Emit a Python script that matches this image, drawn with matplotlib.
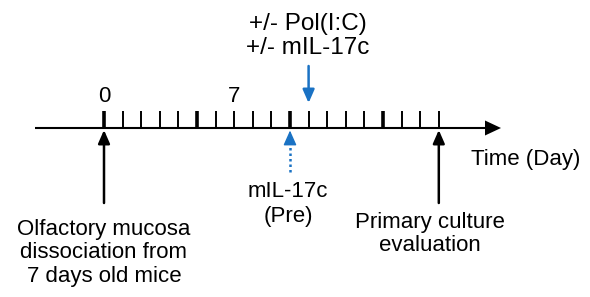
import matplotlib.pyplot as plt

plt.rcParams["font.family"] = ["Liberation Sans", "DejaVu Sans"]

# timeline content
TICK_DAYS = list(range(0, 19))
BOLD_DAYS = [0, 5, 10, 15]
LABEL_DAYS = [0, 7]
TREAT_DAY = 11
TREAT_TEXT = "+/- Pol(I:C)\n+/- mIL-17c"
PRE_DAY = 10
PRE_TEXT = "mIL-17c\n(Pre)"
START_DAY = 0
START_TEXT = "Olfactory mucosa\ndissociation from\n7 days old mice"
END_DAY = 18
END_TEXT = "Primary culture\nevaluation"
AXIS_TEXT = "Time (Day)"

BLUE = "#1a72c4"
FS = 16

# layout: x in days (day 0 at 104 px, 18.6 px per day), y in pixels from top
PX0, PXD = 104.0, 18.6


def d(px):
    return (px - PX0) / PXD


fig = plt.figure(figsize=(5.9, 2.97), dpi=100)
ax = fig.add_axes([0, 0, 1, 1])
ax.set_xlim(d(0), d(590))
ax.set_ylim(297, 0)
ax.axis("off")

axis_y = 128
# main axis with arrow head
ax.plot([d(35), d(488)], [axis_y, axis_y], color="black", lw=1.5, solid_capstyle="butt")
ax.fill([d(485), d(501), d(485)], [axis_y - 7.5, axis_y, axis_y + 7.5], color="black", lw=0)

for day in TICK_DAYS:
    lw = 2.6 if day in BOLD_DAYS else 1.4
    ax.plot([day, day], [axis_y, 110.5], color="black", lw=lw, solid_capstyle="butt")

for day in LABEL_DAYS:
    ax.text(day, 97, str(day), ha="center", va="center", fontsize=FS)

# treatment arrow (blue, from above)
ax.annotate("", xy=(TREAT_DAY, 103), xytext=(TREAT_DAY, 66),
            arrowprops=dict(arrowstyle="-|>,head_length=0.8,head_width=0.35",
                            color=BLUE, lw=1.8, shrinkA=0, shrinkB=0))
ax.text(d(308), 36, TREAT_TEXT, ha="center", va="center", fontsize=17.5,
        linespacing=1.15)

# pre-treatment arrow (blue dotted, from below)
ax.plot([PRE_DAY, PRE_DAY], [172, 140], color=BLUE, lw=1.8, ls=(0, (1, 1.2)))
ax.annotate("", xy=(PRE_DAY, 130.5), xytext=(PRE_DAY, 144),
            arrowprops=dict(arrowstyle="-|>,head_length=0.9,head_width=0.4",
                            color=BLUE, lw=1.0, shrinkA=0, shrinkB=0))
ax.text(d(288), 204, PRE_TEXT, ha="center", va="center", fontsize=FS,
        linespacing=1.2)

# start / end arrows (black, from below)
for day in (START_DAY, END_DAY):
    ax.annotate("", xy=(day, 130), xytext=(day, 203),
                arrowprops=dict(arrowstyle="-|>,head_length=0.8,head_width=0.35",
                                color="black", lw=1.8, shrinkA=0, shrinkB=0))

ax.text(START_DAY, 253, START_TEXT, ha="center", va="center", fontsize=FS,
        linespacing=1.15)
ax.text(d(430), 234, END_TEXT, ha="center", va="center", fontsize=FS,
        linespacing=1.15)
ax.text(d(526), 160, AXIS_TEXT, ha="center", va="center", fontsize=FS)

fig.savefig("out.png", dpi=100)
